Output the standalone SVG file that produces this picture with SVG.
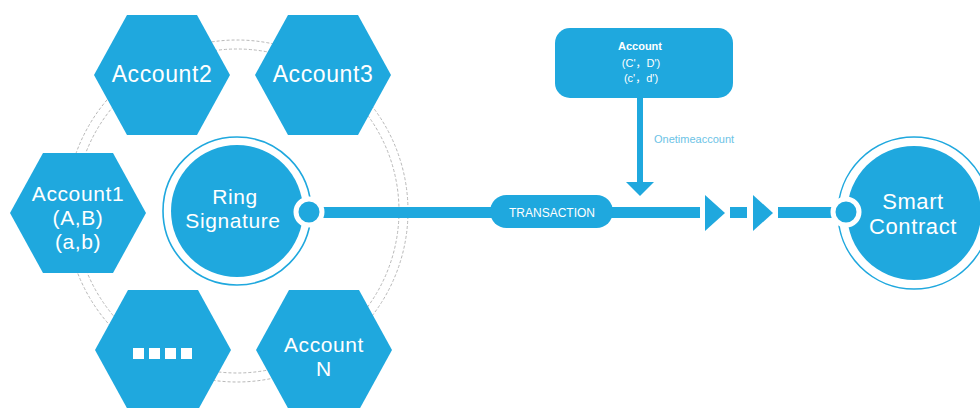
<svg xmlns="http://www.w3.org/2000/svg" width="980" height="408" viewBox="0 0 980 408">
<style>
.hex{fill:#1fa8de}
.fill{fill:#1fa8de}
.ring{fill:none;stroke:#1fa8de;stroke-width:1.6}
.dot{fill:none;stroke:#b8b8b8;stroke-width:1;stroke-dasharray:3 2}
.big{font-family:"Liberation Sans",Arial,sans-serif;font-size:21px;letter-spacing:0.6px;fill:#ffffff;text-anchor:middle}
.sm{font-family:"Liberation Sans","Noto Sans CJK SC",Arial,sans-serif;font-size:11px;fill:#ffffff;text-anchor:middle}
.lbl{font-family:"Liberation Sans",Arial,sans-serif;font-size:11px;fill:#6cc3e6}
.knob{fill:#1fa8de;stroke:#ffffff;stroke-width:5}
</style>
<rect width="980" height="408" fill="#ffffff"/>
<g id="dotted-ring">
<circle class="dot" cx="237" cy="211" r="162"/>
<circle class="dot" cx="237" cy="211" r="171"/>
</g>
<g id="account2">
<polygon class="hex" points="94,75 127,15 197,15 230,75 197,135 127,135"/>
<text class="big" x="162" y="82" style="font-size:23px">Account2</text>
</g>
<g id="account3">
<polygon class="hex" points="255,75 288,15 358,15 391,75 358,135 288,135"/>
<text class="big" x="323" y="82" style="font-size:23px">Account3</text>
</g>
<g id="account1">
<polygon class="hex" points="10,213 43,153 113,153 146,213 113,273 43,273"/>
<text class="big" x="78" y="201">Account1</text>
<text class="big" x="78" y="225">(A,B)</text>
<text class="big" x="78" y="249">(a,b)</text>
</g>
<g id="ellipsis">
<polygon class="hex" points="95,350 128,290 198,290 231,350 198,410 128,410"/>
<rect x="133" y="348" width="11" height="11" fill="#ffffff"/>
<rect x="149" y="348" width="11" height="11" fill="#ffffff"/>
<rect x="165" y="348" width="11" height="11" fill="#ffffff"/>
<rect x="181" y="348" width="11" height="11" fill="#ffffff"/>
</g>
<g id="accountN">
<polygon class="hex" points="256,350 289,290 359,290 392,350 359,410 289,410"/>
<text class="big" x="324" y="352">Account</text>
<text class="big" x="324" y="376">N</text>
</g>
<g id="ring-signature">
<circle class="ring" cx="237" cy="211" r="74"/>
<circle class="fill" cx="237" cy="211" r="66"/>
<text class="big" x="235" y="204">Ring</text>
<text class="big" x="233" y="228">Signature</text>
</g>
<g id="smart-contract">
<circle class="ring" cx="914" cy="213" r="76"/>
<circle class="fill" cx="914" cy="213" r="67"/>
<text class="big" x="913" y="209" style="font-size:22px">Smart</text>
<text class="big" x="913" y="234" style="font-size:22px">Contract</text>
</g>
<g id="account-box">
<rect class="fill" x="555" y="28" width="178" height="70" rx="15"/>
<text class="sm" x="640" y="50" style="font-weight:bold">Account</text>
<text class="sm" x="641" y="67">(C'，D')</text>
<text class="sm" x="641" y="82">(c'，d')</text>
</g>
<g id="connectors">
<rect class="fill" x="305" y="207" width="395" height="11"/>
<circle class="knob" cx="309" cy="212" r="13"/>
<rect class="fill" x="490" y="195" width="123" height="33" rx="16.5"/>
<text class="sm" x="552" y="217" style="font-size:12px">TRANSACTION</text>
<rect class="fill" x="637" y="98" width="6" height="86"/>
<polygon class="fill" points="626,182 654,182 640,196"/>
<text class="lbl" x="654" y="143">Onetimeaccount</text>
<polygon class="fill" points="705,195 725,213 705,231"/>
<rect class="fill" x="730" y="207" width="17" height="11"/>
<polygon class="fill" points="753,195 773,213 753,231"/>
<rect class="fill" x="778" y="207" width="66" height="11"/>
<circle class="knob" cx="846" cy="212" r="13"/>
</g>
</svg>
